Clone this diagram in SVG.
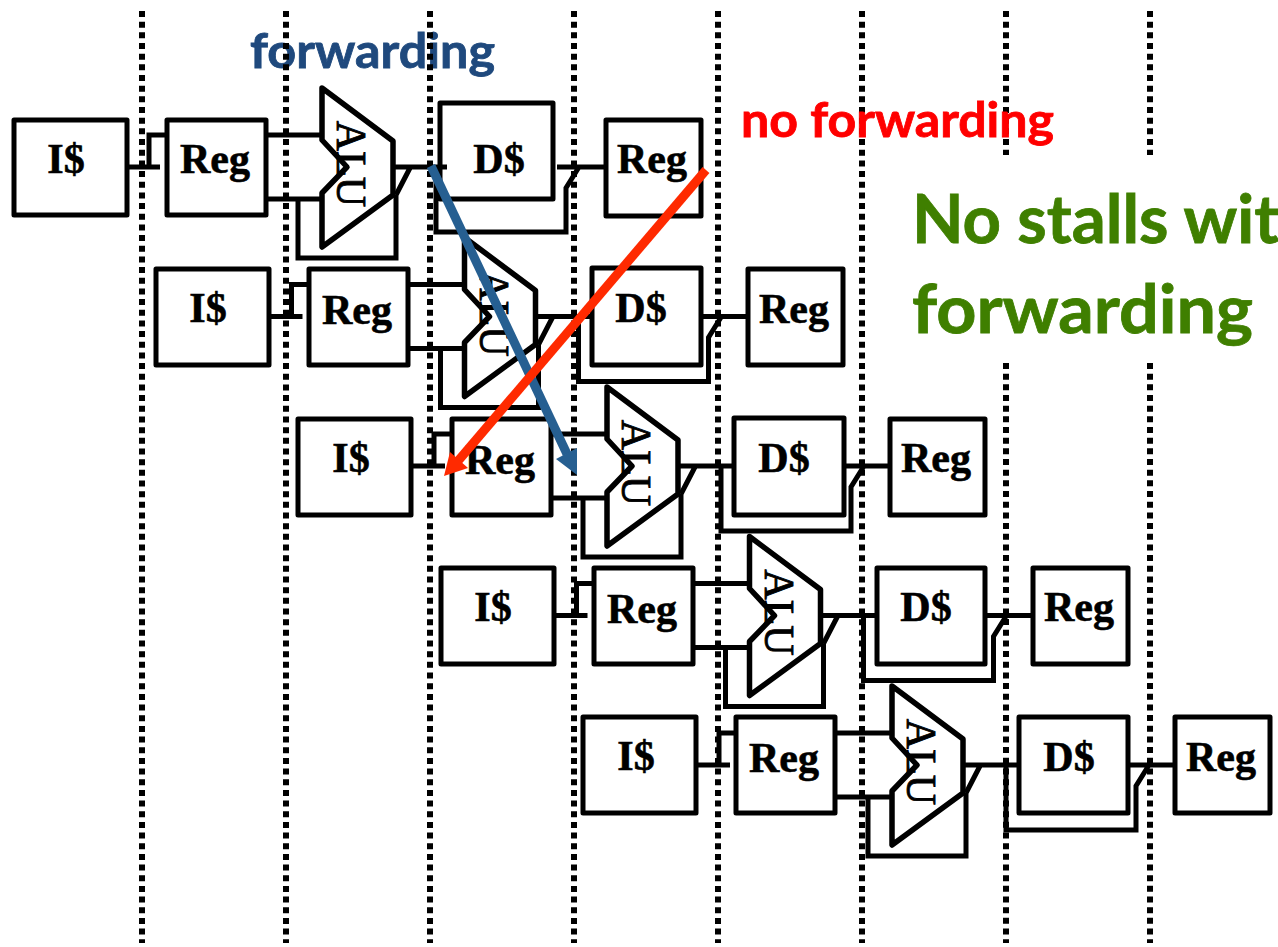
<svg xmlns="http://www.w3.org/2000/svg" width="1278" height="947" viewBox="0 0 1278 947">
<style>
.dot{stroke:#000;stroke-width:6;stroke-dasharray:6 4.67;fill:none}
.box{fill:#fff;stroke:#000;stroke-width:5;stroke-linejoin:round}
.w{fill:none;stroke:#000;stroke-width:5;stroke-linejoin:miter}
.alu{fill:#fff}
.alul{fill:none;stroke:#000;stroke-width:5.5;stroke-linejoin:round}
.t{font-family:"Liberation Serif",serif;font-weight:bold;font-size:42px;text-anchor:middle;fill:#000;stroke:#000;stroke-width:.6}
.a{font-family:"Liberation Serif",serif;font-size:42px;text-anchor:middle;fill:#000;stroke:#000;stroke-width:.9}
.l{font-family:Lato,"Open Sans",sans-serif;font-weight:bold;stroke-width:.8}
</style>
<defs>
<path id="alus" d="M322 88L393 141V195L322 247V193L347 167L322 140Z"/>
<path id="wires" d="M127 167H160M149 167V135H167M266 135H322M266 199H322M298 199V258H396V195M396 195L411 166M395 167H449M436 167V232H566V188L579 167M557 167H606"/>
</defs>
<text class="l" x="250" y="68" font-size="48" textLength="245" lengthAdjust="spacingAndGlyphs" fill="#1F497D" stroke="#1F497D">forwarding</text>
<g id="dotted">
<path class="dot" d="M142 11V943M286 11V943M430 11V943M574 11V943M718 11V943M862 11V943M1006 11V155M1006 363V943M1150 11V155M1150 363V943"/>
</g>
<g id="connectors">
<use id="c1" href="#wires" class="w"/>
<use id="c2" href="#wires" class="w" transform="translate(142.5 149.5)"/>
<use id="c3" href="#wires" class="w" transform="translate(285 299)"/>
<use id="c4" href="#wires" class="w" transform="translate(427.5 448.5)"/>
<use id="c5" href="#wires" class="w" transform="translate(570 598)"/>
</g>
<g id="r1-i"><rect class="box" x="14" y="120" width="113" height="95"/><text class="t" x="66" y="173">I$</text></g>
<g id="r1-reg1"><rect class="box" x="167" y="120" width="99" height="95"/><text class="t" x="215" y="173">Reg</text></g>
<g id="r1-alu"><use href="#alus" class="alu"/><text class="a" transform="translate(337 164) rotate(90)">ALU</text><use href="#alus" class="alul"/></g>
<g id="r1-d"><rect class="box" x="440" y="103" width="113" height="96"/><text class="t" x="499" y="173">D$</text><path class="w" d="M440 167H447"/></g>
<g id="r1-reg2"><rect class="box" x="606" y="120" width="95" height="96"/><text class="t" x="652" y="173">Reg</text></g>
<g id="r2-i"><rect class="box" x="156" y="269" width="113" height="96"/><text class="t" x="208" y="322">I$</text></g>
<g id="r2-reg1"><rect class="box" x="309" y="269" width="99" height="96"/><text class="t" x="357" y="324">Reg</text></g>
<g id="r2-alu" transform="translate(142.5 149.5)"><use href="#alus" class="alu"/><text class="a" transform="translate(337 164) rotate(90)">ALU</text><use href="#alus" class="alul"/></g>
<g id="r2-d"><rect class="box" x="592" y="268" width="109" height="97"/><text class="t" x="641" y="322">D$</text></g>
<g id="r2-reg2"><rect class="box" x="748" y="269" width="95" height="96"/><text class="t" x="794" y="323">Reg</text></g>
<g id="r3-i"><rect class="box" x="298" y="419" width="113" height="96"/><text class="t" x="351" y="472">I$</text></g>
<g id="r3-reg1"><rect class="box" x="452" y="419" width="99" height="96"/><text class="t" x="500" y="474">Reg</text></g>
<g id="r3-alu" transform="translate(285 299)"><use href="#alus" class="alu"/><text class="a" transform="translate(337 164) rotate(90)">ALU</text><use href="#alus" class="alul"/></g>
<g id="r3-d"><rect class="box" x="734" y="418" width="110" height="97"/><text class="t" x="784" y="472">D$</text></g>
<g id="r3-reg2"><rect class="box" x="890" y="419" width="95" height="96"/><text class="t" x="936" y="472">Reg</text></g>
<g id="r4-i"><rect class="box" x="441" y="568" width="113" height="96"/><text class="t" x="493" y="621">I$</text></g>
<g id="r4-reg1"><rect class="box" x="594" y="568" width="99" height="96"/><text class="t" x="642" y="623">Reg</text></g>
<g id="r4-alu" transform="translate(427.5 448.5)"><use href="#alus" class="alu"/><text class="a" transform="translate(337 164) rotate(90)">ALU</text><use href="#alus" class="alul"/></g>
<g id="r4-d"><rect class="box" x="877" y="568" width="108" height="96"/><text class="t" x="926" y="621">D$</text></g>
<g id="r4-reg2"><rect class="box" x="1033" y="568" width="95" height="96"/><text class="t" x="1079" y="621">Reg</text></g>
<g id="r5-i"><rect class="box" x="583" y="717" width="113" height="96"/><text class="t" x="636" y="770">I$</text></g>
<g id="r5-reg1"><rect class="box" x="736" y="717" width="99" height="96"/><text class="t" x="784" y="772">Reg</text></g>
<g id="r5-alu" transform="translate(570 598)"><use href="#alus" class="alu"/><text class="a" transform="translate(337 164) rotate(90)">ALU</text><use href="#alus" class="alul"/></g>
<g id="r5-d"><rect class="box" x="1019" y="717" width="109" height="96"/><text class="t" x="1069" y="771">D$</text></g>
<g id="r5-reg2"><rect class="box" x="1175" y="717" width="95" height="96"/><text class="t" x="1221" y="771">Reg</text></g>
<g id="arrows">
<path d="M431 166L567 454" stroke="#265F91" stroke-width="9" fill="none"/>
<path d="M556 459L577 448V475Z" fill="#265F91"/>
<path d="M706 170L458 461" stroke="#FF2A00" stroke-width="9" fill="none"/>
<path d="M450 452L468 468L444 476Z" fill="#FF2A00"/>
</g>
<g id="labels">
<text class="l" x="741" y="137" font-size="47" textLength="313" lengthAdjust="spacingAndGlyphs" fill="#FF0000" stroke="#FF0000">no forwarding</text>
<text class="l" x="912" y="243" font-size="67" fill="#3F7F00" stroke="#3F7F00">No stalls wit</text>
<text class="l" x="912" y="333" font-size="67" textLength="341" lengthAdjust="spacingAndGlyphs" fill="#3F7F00" stroke="#3F7F00">forwarding</text>
</g>
</svg>
